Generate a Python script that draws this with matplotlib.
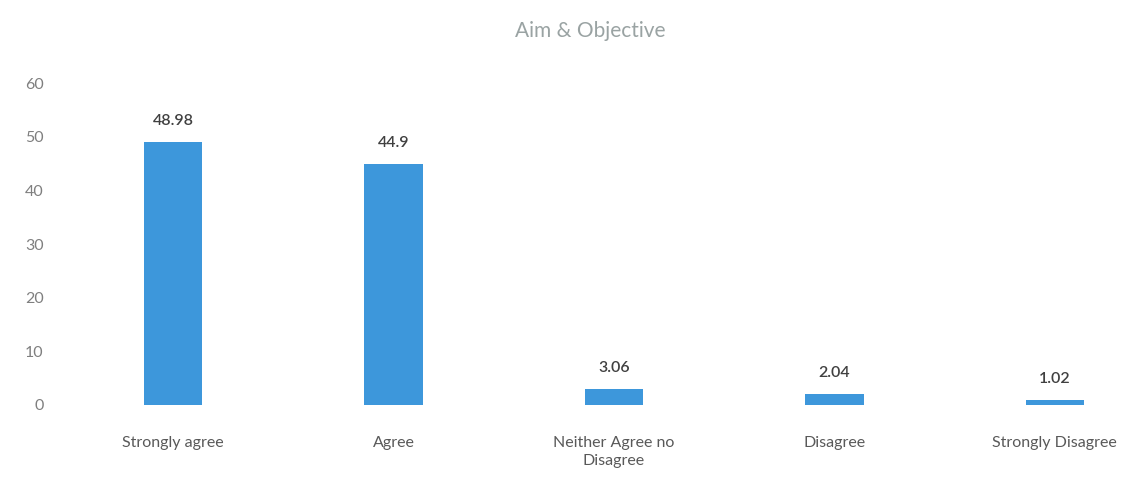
import matplotlib
matplotlib.use("Agg")
import matplotlib.pyplot as plt

# Survey responses (percent)
categories = ['Strongly agree', 'Agree', 'Neither Agree no\nDisagree', 'Disagree', 'Strongly Disagree']
values = [48.98, 44.9, 3.06, 2.04, 1.02]
value_labels = ['48.98', '44.9', '3.06', '2.04', '1.02']
yticks = [0, 10, 20, 30, 40, 50, 60]

plt.rcParams['font.family'] = ['Lato', 'DejaVu Sans']

fig = plt.figure(figsize=(11.41, 4.83), dpi=100)
ax = fig.add_axes([63 / 1141, 78 / 483, 1 - 63 / 1141, 322 / 483])

x = list(range(len(categories)))
ax.bar(x, values, width=0.265, color='#3D97DB')

for xi, v, lab in zip(x, values, value_labels):
    ax.annotate(lab, (xi, v), xytext=(0, 10), textcoords='offset points',
                ha='center', va='bottom', fontsize=11.5, color='#404040', fontweight='semibold')

ax.set_ylim(0, 60)
ax.set_xlim(-0.5, 4.5 - 24 / 220)
ax.set_yticks(yticks)
ax.set_xticks(x)
ax.set_xticklabels(categories, fontsize=11.5, color='#595959', linespacing=1.4)
ax.tick_params(axis='y', labelsize=11.5, labelcolor='#7F7F7F', length=0, pad=14)
ax.tick_params(axis='x', length=0, pad=22)
for s in ax.spines.values():
    s.set_visible(False)

fig.text(590 / 1141, 1 - 31 / 483, 'Aim & Objective', ha='center', va='center',
         fontsize=15, color='#9AA3A3', fontweight='normal')

fig.savefig('out.png', dpi=100)
